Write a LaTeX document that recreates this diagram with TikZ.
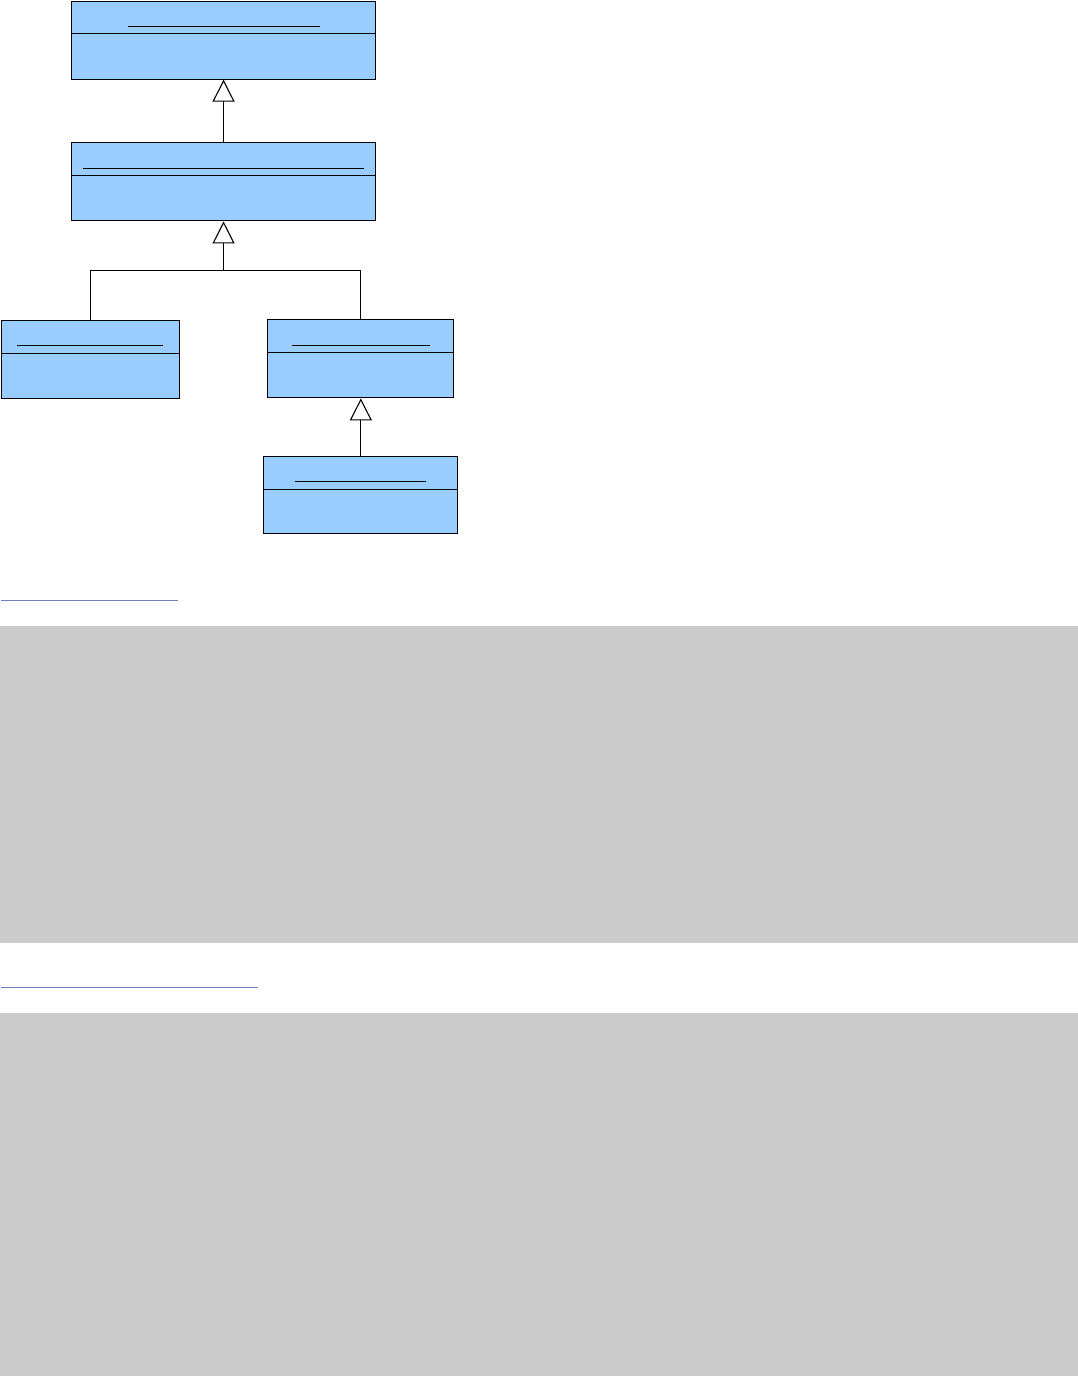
\documentclass[tikz,border=0pt]{standalone}
\usetikzlibrary{arrows.meta}
\definecolor{umlblue}{HTML}{99CCFF}
\definecolor{codegray}{HTML}{CCCCCC}
\definecolor{linkblue}{RGB}{112,128,192}
\tikzset{
  classbox/.style={draw=black, fill=umlblue, line width=1.1pt, rectangle, inner sep=0pt, anchor=north west},
  divider/.style={line width=1.1pt},
  nameline/.style={line width=1.1pt},
  gen/.style={line width=1.1pt, -{Triangle[open, length=22pt, width=22pt, fill=white, line width=1.1pt]}},
  plain/.style={line width=1.1pt},
  codebox/.style={fill=codegray, draw=none},
  linkline/.style={draw=linkblue, line width=1.2pt}
}
\begin{document}
\begin{tikzpicture}[x=1pt,y=-1pt]
\useasboundingbox (0,0) rectangle (1078,1376);
% class boxes
\node[classbox, minimum width=304pt, minimum height=78pt] (c1) at (71,0.5) {};
\node[classbox, minimum width=304pt, minimum height=78pt] (c2) at (71,142.3) {};
\node[classbox, minimum width=178.5pt, minimum height=78pt] (c3) at (0.6,320.3) {};
\node[classbox, minimum width=186pt, minimum height=78pt] (c4) at (267.3,319.3) {};
\node[classbox, minimum width=194pt, minimum height=77pt] (c5) at (263.3,456.3) {};
% dividers
\draw[divider] (71,33.3) -- (375,33.3);
\draw[divider] (71,175.3) -- (375,175.3);
\draw[divider] (0.6,353.3) -- (179.1,353.3);
\draw[divider] (267.3,352.3) -- (453.3,352.3);
\draw[divider] (263.3,489.3) -- (457.3,489.3);
% name underlines
\draw[nameline] (128,26.3) -- (320,26.3);
\draw[nameline] (83,168.3) -- (364,168.3);
\draw[nameline] (17,345.3) -- (163,345.3);
\draw[nameline] (292,345.3) -- (430,345.3);
\draw[nameline] (295,481.3) -- (426,481.3);
% generalizations
\draw[gen] (c2.north) -- (c1.south);
\coordinate (j) at (c2.south |- 0,270.3);
\draw[plain] (c3.north) |- (j) -| (c4.north);
\draw[gen] (j) -- (c2.south);
\draw[gen] (c5.north) -- (c4.south);
% link underlines and code blocks
\draw[linkline] (1,600.3) -- (178,600.3);
\fill[codebox] (0,626) rectangle (1077.5,943.3);
\draw[linkline] (1,987.3) -- (258,987.3);
\fill[codebox] (0,1012.7) rectangle (1077.5,1376);
\end{tikzpicture}
\end{document}
